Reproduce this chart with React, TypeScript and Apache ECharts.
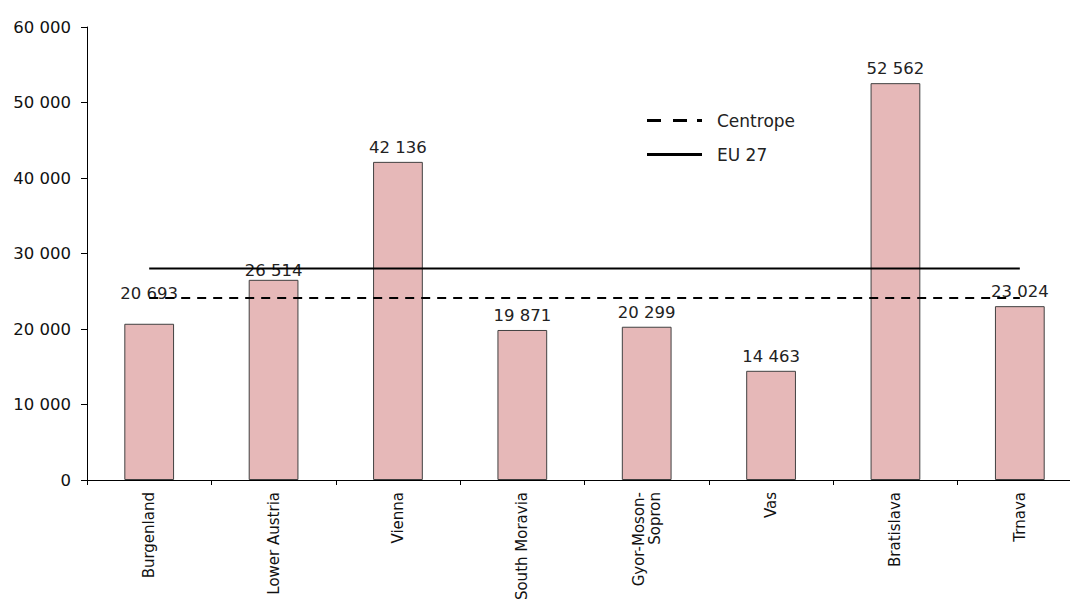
import React, { useEffect, useRef } from "react";
import * as echarts from "echarts";

const categories = [
  "Burgenland",
  "Lower Austria",
  "Vienna",
  "South Moravia",
  "Gyor-Moson-\nSopron",
  "Vas",
  "Bratislava",
  "Trnava",
];
const gdpValues = [20693, 26514, 42136, 19871, 20299, 14463, 52562, 23024];
const centropeValue = 24100;
const eu27Value = 28000;
const yTicks = { min: 0, max: 60000, interval: 10000 };

const fmt = (v: number) => String(v).replace(/\B(?=(\d{3})+(?!\d))/g, " ");
const FONT = "DejaVu Sans, Arial, sans-serif";

export default function App() {
  const ref = useRef<HTMLDivElement>(null);
  useEffect(() => {
    if (!ref.current) return;
    const chart = echarts.init(ref.current, undefined, { renderer: "svg" });
    const labelShift: Record<number, number> = { 0: -16, 1: 5 };
    chart.setOption({
      animation: false,
      textStyle: { fontFamily: FONT },
      grid: { left: 87, top: 27, bottom: 119, right: -12, outerBoundsMode: "none", containLabel: false },
      legend: {
        orient: "vertical",
        left: 647,
        top: 112,
        itemGap: 17,
        itemWidth: 55,
        itemHeight: 3,
        padding: 0,
        textStyle: { fontSize: 17, color: "#222", fontFamily: FONT, padding: [0, 0, 0, 10] },
        data: [
          {
            name: "Centrope",
            icon: "path://M0 0h14v3H0zM26 0h14v3H26zM50 0h5v3H50z",
            itemStyle: { color: "#000" },
          },
          {
            name: "EU 27",
            icon: "rect",
            itemStyle: { color: "#000" },
          },
        ],
      },
      xAxis: {
        type: "category",
        data: categories,
        axisLine: { lineStyle: { color: "#000", width: 1 } },
        axisTick: { show: true, length: 5, lineStyle: { color: "#000" } },
        axisLabel: {
          rotate: 90,
          fontSize: 15,
          fontFamily: FONT,
          color: "#111",
          margin: 12,
          interval: 0,
          lineHeight: 16,
        },
      },
      yAxis: {
        type: "value",
        min: yTicks.min,
        max: yTicks.max,
        interval: yTicks.interval,
        splitLine: { show: false },
        axisLine: { show: true, lineStyle: { color: "#000" } },
        axisTick: { show: true, length: 6, lineStyle: { color: "#000" } },
        axisLabel: {
          fontSize: 16.5,
          fontFamily: FONT,
          color: "#111",
          margin: 16,
          formatter: (v: number) => fmt(v),
        },
      },
      series: [
        {
          type: "bar",
          name: "GDP",
          barWidth: "40%",
          itemStyle: { color: "#e6b8b8", borderColor: "#404040", borderWidth: 1 },
          label: {
            show: true,
            position: "top",
            distance: 6,
            fontSize: 16.5,
            fontFamily: FONT,
            color: "#222",
            formatter: (p: any) => fmt(p.value),
          },
          data: gdpValues.map((v, i) =>
            labelShift[i] !== undefined
              ? { value: v, label: { offset: [0, labelShift[i]] } }
              : v
          ),
          z: 2,
        },
        {
          type: "line",
          name: "Centrope",
          data: categories.map(() => centropeValue),
          symbol: "none",
          lineStyle: { color: "#000", width: 2, type: [9, 7] },
          itemStyle: { color: "#000" },
          z: 3,
        },
        {
          type: "line",
          name: "EU 27",
          data: categories.map(() => eu27Value),
          symbol: "none",
          lineStyle: { color: "#000", width: 2, type: "solid" },
          itemStyle: { color: "#000" },
          z: 3,
        },
      ],
    });
    return () => chart.dispose();
  }, []);
  return (
    <div
      ref={ref}
      style={{ position: "fixed", left: 0, top: 0, width: 1070, height: 599, background: "#fff" }}
    />
  );
}
